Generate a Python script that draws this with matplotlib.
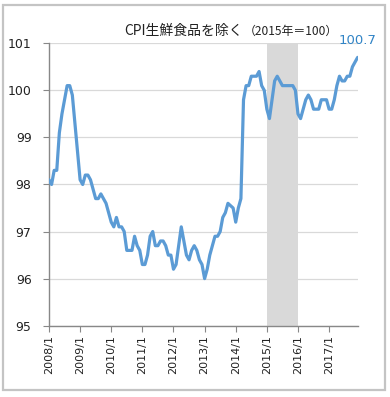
import numpy as np
import matplotlib
matplotlib.use("Agg")
import matplotlib.pyplot as plt
from matplotlib.patches import Rectangle

# CPI excluding fresh food (2015 = 100), monthly 2008/1 - 2017/12
cpi_2008 = [98.1, 98.0, 98.3, 98.3, 99.1, 99.5, 99.8, 100.1, 100.1, 99.9, 99.3, 98.7]
cpi_2009 = [98.1, 98.0, 98.2, 98.2, 98.1, 97.9, 97.7, 97.7, 97.8, 97.7, 97.6, 97.4]
cpi_2010 = [97.2, 97.1, 97.3, 97.1, 97.1, 97.0, 96.6, 96.6, 96.6, 96.9, 96.7, 96.6]
cpi_2011 = [96.3, 96.3, 96.5, 96.9, 97.0, 96.7, 96.7, 96.8, 96.8, 96.7, 96.5, 96.5]
cpi_2012 = [96.2, 96.3, 96.7, 97.1, 96.8, 96.5, 96.4, 96.6, 96.7, 96.6, 96.4, 96.3]
cpi_2013 = [96.0, 96.2, 96.5, 96.7, 96.9, 96.9, 97.0, 97.3, 97.4, 97.6, 97.55, 97.5]
cpi_2014 = [97.2, 97.5, 97.7, 99.8, 100.1, 100.1, 100.3, 100.3, 100.3, 100.4, 100.1, 100.0]
cpi_2015 = [99.6, 99.4, 99.8, 100.2, 100.3, 100.2, 100.1, 100.1, 100.1, 100.1, 100.1, 100.0]
cpi_2016 = [99.5, 99.4, 99.6, 99.8, 99.9, 99.8, 99.6, 99.6, 99.6, 99.8, 99.8, 99.8]
cpi_2017 = [99.6, 99.6, 99.8, 100.1, 100.3, 100.2, 100.2, 100.3, 100.3, 100.5, 100.6, 100.7]

years = [2008, 2009, 2010, 2011, 2012, 2013, 2014, 2015, 2016, 2017]
tick_labels = [str(y) + "/1" for y in years]
shade_start = "2015/1"
shade_end = "2016/1"
last_label = "100.7"

cpi = np.array(cpi_2008 + cpi_2009 + cpi_2010 + cpi_2011 + cpi_2012
               + cpi_2013 + cpi_2014 + cpi_2015 + cpi_2016 + cpi_2017)
months = np.arange(len(cpi))

plt.rcParams['font.family'] = ['DejaVu Sans']

fig = plt.figure(figsize=(3.9, 3.97), dpi=100)
ax = fig.add_axes([0.1256, 0.1796, 0.7914, 0.7114])

# outer frame
fig.patches.append(Rectangle((0.0077, 0.0176), 0.9795, 0.9698, transform=fig.transFigure,
                             fill=False, edgecolor='#c4c4c4', linewidth=1.6))

x0 = tick_labels.index(shade_start) * 12
x1 = tick_labels.index(shade_end) * 12
ax.axvspan(x0, x1, color='#d9d9d9', linewidth=0, zorder=0)

ax.plot(months, cpi, color='#5b9bd5', linewidth=2.3, solid_capstyle='round',
        solid_joinstyle='round', zorder=3)

ax.set_xlim(0, len(cpi) - 1)
ax.set_ylim(95, 101)
ax.set_yticks(np.arange(95, 102, 1))
ax.set_xticks(np.arange(0, 120, 12))
ax.set_xticklabels(tick_labels, rotation=90, fontsize=8)
ax.tick_params(axis='y', labelsize=9, length=4.5, color='#888888', pad=8, labelcolor='#222222')
ax.tick_params(axis='x', length=4.5, color='#888888', pad=2, labelcolor='#222222')

ax.grid(axis='y', color='#d9d9d9', linewidth=0.9)
ax.set_axisbelow(True)
for s in ['top', 'right']:
    ax.spines[s].set_visible(False)
for s in ['left', 'bottom']:
    ax.spines[s].set_color('#888888')
    ax.spines[s].set_linewidth(1.0)

ax.annotate(last_label, xy=(months[-1], cpi[-1]), xytext=(-14, 12), textcoords='offset points',
            ha='left', va='center', color='#3184c6', fontsize=9.5)

fig.text(0.623, 0.922, "CPI生鮮食品を除く", ha='right', va='center', fontsize=10,
         family=['Noto Sans CJK JP', 'DejaVu Sans'], color='#222222')
fig.text(0.626, 0.921, "（2015年＝100）", ha='left', va='center', fontsize=8.6,
         family=['Noto Sans CJK JP', 'DejaVu Sans'], color='#222222')

fig.savefig("out.png", dpi=100)
